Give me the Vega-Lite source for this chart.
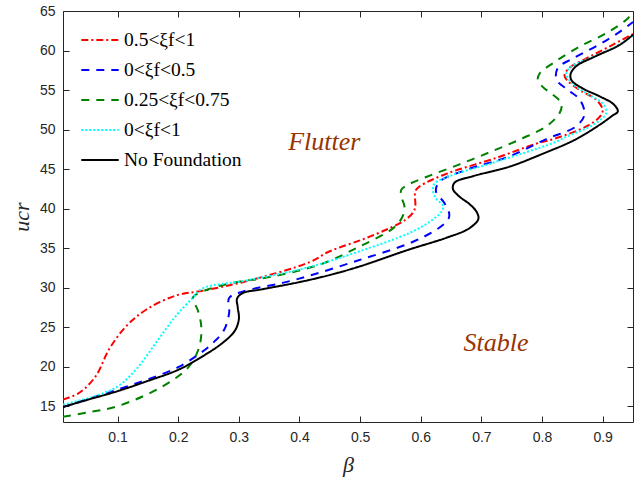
{
  "$schema": "https://vega.github.io/schema/vega-lite/v6.json",
  "width": 570,
  "height": 411,
  "autosize": "none",
  "padding": {"left": 63, "top": 11, "right": 2, "bottom": 57},
  "config": {
    "view": {"stroke": "#262626", "strokeWidth": 1},
    "axis": {"labelFont": "Liberation Sans", "labelFontSize": 14, "labelColor": "#262626", "domain": false, "tickColor": "#262626", "titleColor": "#262626", "ticks": true, "tickSize": 6, "tickWidth": 1, "offset": -6, "labelPadding": 8, "grid": false}
  },
  "resolve": {"axis": {"x": "independent", "y": "independent"}},
  "layer": [
    {
      "data": {"values": [
        {"s":"0.5<ξf<1","i":1,"b":0.01,"u":15.85},{"s":"0.5<ξf<1","i":2,"b":0.037,"u":16.7},{"s":"0.5<ξf<1","i":3,"b":0.064,"u":18.8},{"s":"0.5<ξf<1","i":4,"b":0.086,"u":22.2},{"s":"0.5<ξf<1","i":5,"b":0.114,"u":25.1},{"s":"0.5<ξf<1","i":6,"b":0.147,"u":27.2},{"s":"0.5<ξf<1","i":7,"b":0.196,"u":29.0},{"s":"0.5<ξf<1","i":8,"b":0.24,"u":29.6},{"s":"0.5<ξf<1","i":9,"b":0.312,"u":30.8},{"s":"0.5<ξf<1","i":10,"b":0.416,"u":33.2},{"s":"0.5<ξf<1","i":11,"b":0.45,"u":34.6},{"s":"0.5<ξf<1","i":12,"b":0.504,"u":36.1},{"s":"0.5<ξf<1","i":13,"b":0.548,"u":37.5},{"s":"0.5<ξf<1","i":14,"b":0.575,"u":38.6},{"s":"0.5<ξf<1","i":15,"b":0.588,"u":39.6},{"s":"0.5<ξf<1","i":16,"b":0.591,"u":40.3},{"s":"0.5<ξf<1","i":17,"b":0.591,"u":42.2},{"s":"0.5<ξf<1","i":18,"b":0.598,"u":42.8},{"s":"0.5<ξf<1","i":19,"b":0.642,"u":44.4},{"s":"0.5<ξf<1","i":20,"b":0.724,"u":46.4},{"s":"0.5<ξf<1","i":21,"b":0.79,"u":48.2},{"s":"0.5<ξf<1","i":22,"b":0.823,"u":48.9},{"s":"0.5<ξf<1","i":23,"b":0.873,"u":50.4},{"s":"0.5<ξf<1","i":24,"b":0.895,"u":51.6},{"s":"0.5<ξf<1","i":25,"b":0.9,"u":52.5},{"s":"0.5<ξf<1","i":26,"b":0.889,"u":53.8},{"s":"0.5<ξf<1","i":27,"b":0.862,"u":55.0},{"s":"0.5<ξf<1","i":28,"b":0.843,"u":56.1},{"s":"0.5<ξf<1","i":29,"b":0.837,"u":56.8},{"s":"0.5<ξf<1","i":30,"b":0.845,"u":57.8},{"s":"0.5<ξf<1","i":31,"b":0.873,"u":59.0},{"s":"0.5<ξf<1","i":32,"b":0.911,"u":60.5},{"s":"0.5<ξf<1","i":33,"b":0.95,"u":62.1},
        {"s":"0<ξf<0.5","i":1,"b":0.01,"u":14.9},{"s":"0<ξf<0.5","i":2,"b":0.1,"u":17.1},{"s":"0<ξf<0.5","i":3,"b":0.15,"u":18.4},{"s":"0<ξf<0.5","i":4,"b":0.199,"u":19.9},{"s":"0<ξf<0.5","i":5,"b":0.24,"u":21.9},{"s":"0<ξf<0.5","i":6,"b":0.26,"u":23.2},{"s":"0<ξf<0.5","i":7,"b":0.276,"u":24.7},{"s":"0<ξf<0.5","i":8,"b":0.284,"u":26.8},{"s":"0<ξf<0.5","i":9,"b":0.284,"u":28.7},{"s":"0<ξf<0.5","i":10,"b":0.306,"u":29.5},{"s":"0<ξf<0.5","i":11,"b":0.372,"u":30.6},{"s":"0<ξf<0.5","i":12,"b":0.416,"u":31.5},{"s":"0<ξf<0.5","i":13,"b":0.499,"u":33.5},{"s":"0<ξf<0.5","i":14,"b":0.581,"u":35.6},{"s":"0<ξf<0.5","i":15,"b":0.625,"u":37.3},{"s":"0<ξf<0.5","i":16,"b":0.645,"u":38.6},{"s":"0<ξf<0.5","i":17,"b":0.647,"u":39.3},{"s":"0<ξf<0.5","i":18,"b":0.639,"u":40.7},{"s":"0<ξf<0.5","i":19,"b":0.625,"u":42.2},{"s":"0<ξf<0.5","i":20,"b":0.631,"u":43.4},{"s":"0<ξf<0.5","i":21,"b":0.675,"u":44.9},{"s":"0<ξf<0.5","i":22,"b":0.746,"u":46.6},{"s":"0<ξf<0.5","i":23,"b":0.807,"u":48.8},{"s":"0<ξf<0.5","i":24,"b":0.856,"u":50.4},{"s":"0<ξf<0.5","i":25,"b":0.87,"u":51.9},{"s":"0<ξf<0.5","i":26,"b":0.862,"u":53.8},{"s":"0<ξf<0.5","i":27,"b":0.843,"u":55.0},{"s":"0<ξf<0.5","i":28,"b":0.824,"u":56.3},{"s":"0<ξf<0.5","i":29,"b":0.826,"u":57.8},{"s":"0<ξf<0.5","i":30,"b":0.851,"u":59.0},{"s":"0<ξf<0.5","i":31,"b":0.895,"u":60.8},{"s":"0<ξf<0.5","i":32,"b":0.925,"u":62.2},{"s":"0<ξf<0.5","i":33,"b":0.95,"u":63.6},
        {"s":"0.25<ξf<0.75","i":1,"b":0.01,"u":13.65},{"s":"0.25<ξf<0.75","i":2,"b":0.05,"u":14.2},{"s":"0.25<ξf<0.75","i":3,"b":0.1,"u":15.0},{"s":"0.25<ξf<0.75","i":4,"b":0.174,"u":17.5},{"s":"0.25<ξf<0.75","i":5,"b":0.218,"u":20.05},{"s":"0.25<ξf<0.75","i":6,"b":0.235,"u":22.6},{"s":"0.25<ξf<0.75","i":7,"b":0.238,"u":25.1},{"s":"0.25<ξf<0.75","i":8,"b":0.232,"u":27.2},{"s":"0.25<ξf<0.75","i":9,"b":0.224,"u":28.7},{"s":"0.25<ξf<0.75","i":10,"b":0.25,"u":29.8},{"s":"0.25<ξf<0.75","i":11,"b":0.312,"u":30.9},{"s":"0.25<ξf<0.75","i":12,"b":0.334,"u":31.1},{"s":"0.25<ξf<0.75","i":13,"b":0.433,"u":32.9},{"s":"0.25<ξf<0.75","i":14,"b":0.499,"u":35.2},{"s":"0.25<ξf<0.75","i":15,"b":0.554,"u":37.5},{"s":"0.25<ξf<0.75","i":16,"b":0.57,"u":39.0},{"s":"0.25<ξf<0.75","i":17,"b":0.573,"u":40.3},{"s":"0.25<ξf<0.75","i":18,"b":0.568,"u":41.5},{"s":"0.25<ξf<0.75","i":19,"b":0.568,"u":42.4},{"s":"0.25<ξf<0.75","i":20,"b":0.581,"u":43.1},{"s":"0.25<ξf<0.75","i":21,"b":0.609,"u":44.0},{"s":"0.25<ξf<0.75","i":22,"b":0.664,"u":45.6},{"s":"0.25<ξf<0.75","i":23,"b":0.719,"u":47.3},{"s":"0.25<ξf<0.75","i":24,"b":0.768,"u":48.9},{"s":"0.25<ξf<0.75","i":25,"b":0.807,"u":50.4},{"s":"0.25<ξf<0.75","i":26,"b":0.829,"u":52.1},{"s":"0.25<ξf<0.75","i":27,"b":0.832,"u":53.3},{"s":"0.25<ξf<0.75","i":28,"b":0.818,"u":54.4},{"s":"0.25<ξf<0.75","i":29,"b":0.801,"u":55.4},{"s":"0.25<ξf<0.75","i":30,"b":0.793,"u":56.3},{"s":"0.25<ξf<0.75","i":31,"b":0.796,"u":57.1},{"s":"0.25<ξf<0.75","i":32,"b":0.818,"u":58.4},{"s":"0.25<ξf<0.75","i":33,"b":0.862,"u":60.5},{"s":"0.25<ξf<0.75","i":34,"b":0.906,"u":62.2},{"s":"0.25<ξf<0.75","i":35,"b":0.939,"u":63.9},{"s":"0.25<ξf<0.75","i":36,"b":0.952,"u":65.0},
        {"s":"0<ξf<1","i":1,"b":0.01,"u":15.2},{"s":"0<ξf<1","i":2,"b":0.064,"u":16.3},{"s":"0<ξf<1","i":3,"b":0.1,"u":17.5},{"s":"0<ξf<1","i":4,"b":0.13,"u":19.6},{"s":"0<ξf<1","i":5,"b":0.163,"u":23.0},{"s":"0<ξf<1","i":6,"b":0.196,"u":26.4},{"s":"0<ξf<1","i":7,"b":0.224,"u":28.7},{"s":"0<ξf<1","i":8,"b":0.24,"u":29.9},{"s":"0<ξf<1","i":9,"b":0.312,"u":30.9},{"s":"0<ξf<1","i":10,"b":0.416,"u":32.6},{"s":"0<ξf<1","i":11,"b":0.499,"u":34.6},{"s":"0<ξf<1","i":12,"b":0.581,"u":36.9},{"s":"0<ξf<1","i":13,"b":0.614,"u":38.3},{"s":"0<ξf<1","i":14,"b":0.634,"u":39.6},{"s":"0<ξf<1","i":15,"b":0.637,"u":40.3},{"s":"0<ξf<1","i":16,"b":0.625,"u":41.3},{"s":"0<ξf<1","i":17,"b":0.62,"u":42.4},{"s":"0<ξf<1","i":18,"b":0.623,"u":43.2},{"s":"0<ξf<1","i":19,"b":0.647,"u":44.1},{"s":"0<ξf<1","i":20,"b":0.719,"u":45.8},{"s":"0<ξf<1","i":21,"b":0.818,"u":48.3},{"s":"0<ξf<1","i":22,"b":0.84,"u":49.1},{"s":"0<ξf<1","i":23,"b":0.884,"u":50.6},{"s":"0<ξf<1","i":24,"b":0.906,"u":52.1},{"s":"0<ξf<1","i":25,"b":0.9,"u":53.3},{"s":"0<ξf<1","i":26,"b":0.873,"u":54.6},{"s":"0<ξf<1","i":27,"b":0.849,"u":55.9},{"s":"0<ξf<1","i":28,"b":0.84,"u":57.1},{"s":"0<ξf<1","i":29,"b":0.849,"u":58.0},{"s":"0<ξf<1","i":30,"b":0.884,"u":59.2},{"s":"0<ξf<1","i":31,"b":0.922,"u":60.5},{"s":"0<ξf<1","i":32,"b":0.952,"u":62.0},
        {"s":"No Foundation","i":1,"b":0.01,"u":14.9},{"s":"No Foundation","i":2,"b":0.05,"u":15.8},{"s":"No Foundation","i":3,"b":0.1,"u":16.9},{"s":"No Foundation","i":4,"b":0.15,"u":18.2},{"s":"No Foundation","i":5,"b":0.2,"u":19.6},{"s":"No Foundation","i":6,"b":0.24,"u":21.3},{"s":"No Foundation","i":7,"b":0.273,"u":23.0},{"s":"No Foundation","i":8,"b":0.293,"u":24.5},{"s":"No Foundation","i":9,"b":0.3,"u":26.0},{"s":"No Foundation","i":10,"b":0.298,"u":27.6},{"s":"No Foundation","i":11,"b":0.297,"u":28.6},{"s":"No Foundation","i":12,"b":0.306,"u":29.3},{"s":"No Foundation","i":13,"b":0.339,"u":29.8},{"s":"No Foundation","i":14,"b":0.4,"u":30.7},{"s":"No Foundation","i":15,"b":0.45,"u":31.6},{"s":"No Foundation","i":16,"b":0.5,"u":32.7},{"s":"No Foundation","i":17,"b":0.58,"u":34.8},{"s":"No Foundation","i":18,"b":0.642,"u":36.3},{"s":"No Foundation","i":19,"b":0.68,"u":37.5},{"s":"No Foundation","i":20,"b":0.695,"u":38.7},{"s":"No Foundation","i":21,"b":0.692,"u":39.6},{"s":"No Foundation","i":22,"b":0.68,"u":40.6},{"s":"No Foundation","i":23,"b":0.664,"u":41.5},{"s":"No Foundation","i":24,"b":0.653,"u":42.5},{"s":"No Foundation","i":25,"b":0.656,"u":43.3},{"s":"No Foundation","i":26,"b":0.686,"u":44.1},{"s":"No Foundation","i":27,"b":0.746,"u":45.3},{"s":"No Foundation","i":28,"b":0.8,"u":46.9},{"s":"No Foundation","i":29,"b":0.854,"u":48.7},{"s":"No Foundation","i":30,"b":0.895,"u":50.6},{"s":"No Foundation","i":31,"b":0.915,"u":51.7},{"s":"No Foundation","i":32,"b":0.925,"u":52.3},{"s":"No Foundation","i":33,"b":0.918,"u":53.2},{"s":"No Foundation","i":34,"b":0.895,"u":54.2},{"s":"No Foundation","i":35,"b":0.867,"u":55.2},{"s":"No Foundation","i":36,"b":0.849,"u":56.2},{"s":"No Foundation","i":37,"b":0.847,"u":57.0},{"s":"No Foundation","i":38,"b":0.856,"u":58.0},{"s":"No Foundation","i":39,"b":0.889,"u":59.3},{"s":"No Foundation","i":40,"b":0.928,"u":60.7},{"s":"No Foundation","i":41,"b":0.95,"u":62.0}
      ]},
      "mark": {"type": "line", "clip": true, "interpolate": "catmull-rom"},
      "encoding": {
        "x": {"field": "b", "type": "quantitative", "scale": {"domain": [0.01, 0.95], "nice": false, "zero": false},
              "axis": {"orient": "bottom", "values": [0.1,0.2,0.3,0.4,0.5,0.6,0.7,0.8,0.9], "title": "β", "titleFont": "Liberation Serif", "titleFontStyle": "italic", "titleFontWeight": "normal", "titleFontSize": 22, "titlePadding": 10}},
        "y": {"field": "u", "type": "quantitative", "scale": {"domain": [13, 65], "nice": false, "zero": false},
              "axis": {"orient": "left", "values": [15,20,25,30,35,40,45,50,55,60,65], "title": "ucr", "titleFont": "Liberation Serif", "titleFontStyle": "italic", "titleFontWeight": "normal", "titleFontSize": 22, "titlePadding": 6}},
        "color": {"field": "s", "type": "nominal",
                  "scale": {"domain": ["0.5<ξf<1","0<ξf<0.5","0.25<ξf<0.75","0<ξf<1","No Foundation"], "range": ["#FF0000","#0000FF","#008000","#00FFFF","#000000"]},
                  "legend": {"title": null, "orient": "none", "legendX": 17, "legendY": 9, "labelFont": "Liberation Serif", "labelFontSize": 19.5, "labelColor": "#000000", "symbolType": "stroke", "symbolSize": 1400, "symbolStrokeWidth": 2.5, "rowPadding": -5, "labelOffset": 4, "padding": 0}},
        "strokeDash": {"field": "s", "type": "nominal",
                  "scale": {"domain": ["0.5<ξf<1","0<ξf<0.5","0.25<ξf<0.75","0<ξf<1","No Foundation"], "range": [[7,3,2,3],[8,7],[8,7],[2,2],[1,0]]},
                  "legend": {"title": null, "orient": "none", "legendX": 17, "legendY": 9, "labelFont": "Liberation Serif", "labelFontSize": 19.5, "labelColor": "#000000", "symbolType": "stroke", "symbolSize": 1400, "symbolStrokeWidth": 2.5, "rowPadding": -5, "labelOffset": 4, "padding": 0}},
        "strokeWidth": {"field": "s", "type": "ordinal", "scale": {"domain": ["0.5<ξf<1","0<ξf<0.5","0.25<ξf<0.75","0<ξf<1","No Foundation"], "range": [2,2,2,2.2,3]}, "legend": null},
        "order": {"field": "i", "type": "quantitative"}
      }
    },
    {
      "data": {"values": [{"b": 0.441, "u": 48.4, "t": "Flutter"}, {"b": 0.724, "u": 23.0, "t": "Stable"}]},
      "mark": {"type": "text", "font": "Liberation Serif", "fontStyle": "italic", "fontSize": 26, "color": "#993300"},
      "encoding": {
        "x": {"field": "b", "type": "quantitative", "axis": null},
        "y": {"field": "u", "type": "quantitative", "axis": null},
        "text": {"field": "t", "type": "nominal"}
      }
    },
    {
      "data": {"values": [{"b": 0.5, "u": 40}]},
      "mark": {"type": "point", "opacity": 0},
      "encoding": {
        "x": {"field": "b", "type": "quantitative", "axis": {"orient": "top", "values": [0.1,0.2,0.3,0.4,0.5,0.6,0.7,0.8,0.9], "labels": false, "title": null}},
        "y": {"field": "u", "type": "quantitative", "axis": {"orient": "right", "values": [15,20,25,30,35,40,45,50,55,60,65], "labels": false, "title": null}}
      }
    }
  ]
}
